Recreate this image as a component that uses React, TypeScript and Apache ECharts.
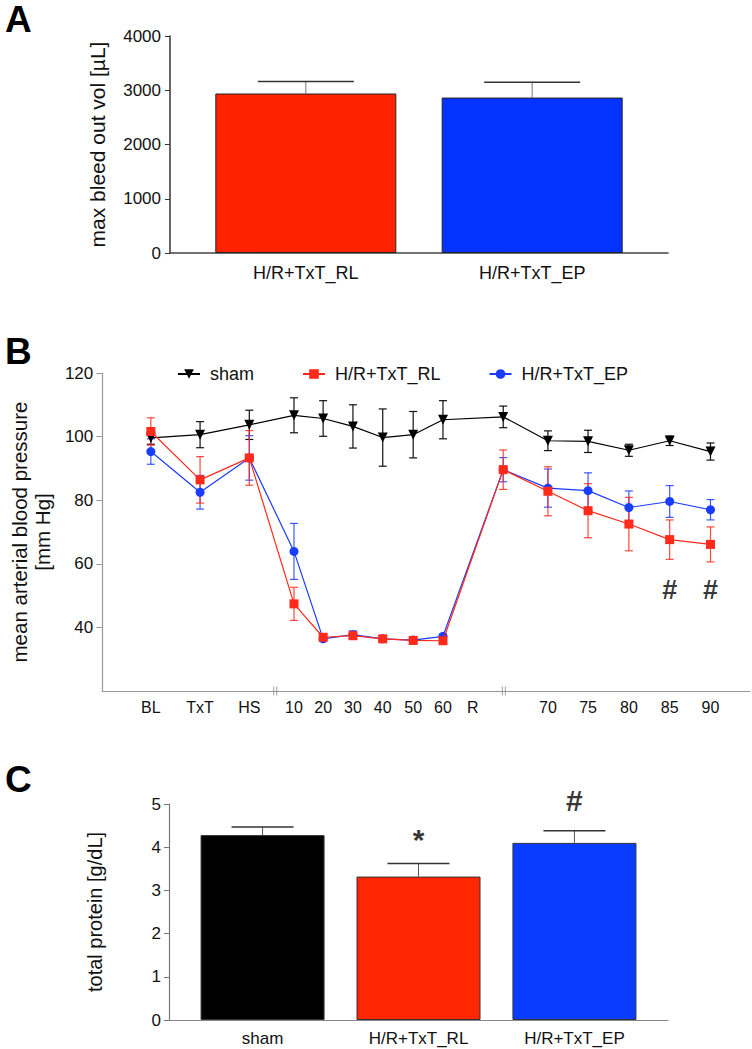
import React, { useEffect, useRef } from "react";
import * as echarts from "echarts";

// ---------- Panel A data ----------
const aGroups = ["H/R+TxT_RL", "H/R+TxT_EP"];
const aMean = [2940, 2865];
const aSem = [220, 282];
const aColors = ["#FF2200", "#0433FF"];

// ---------- Panel B data ----------
const timePoints = ["BL", "TxT", "HS", "10", "20", "30", "40", "50", "60", "R", "70", "75", "80", "85", "90"];
// position of each time point on the (broken) x axis scale, 0..100
const timeAxisPos = [7.5, 15.1, 22.7, 29.6, 34.1, 38.7, 43.3, 48.0, 52.6, 61.9, 68.8, 75.0, 81.3, 87.6, 93.9];
const rLabelPos = 57.2;
const axisBreaks = [26.7, 62.0];
const shamMean = [99.6, 100.6, 103.7, 106.7, 105.7, 103.2, 99.7, 100.6, 105.3, 106.2, 98.7, 98.5, 95.7, 98.7, 95.3];
const shamSem = [2.0, 4.1, 4.6, 5.5, 5.6, 6.8, 9.0, 7.3, 6.0, 3.4, 3.1, 3.5, 1.9, 1.5, 2.7];
const rlMean = [101.6, 86.4, 93.3, 47.4, 36.9, 37.4, 36.4, 35.9, 35.8, 89.6, 82.8, 76.7, 72.5, 67.6, 66.1];
const rlSem = [4.3, 7.3, 8.6, 5.2, 1.0, 1.2, 0.8, 0.6, 0.6, 6.2, 7.7, 8.5, 8.4, 6.2, 5.5];
const epMean = [95.3, 82.5, 93.3, 63.9, 36.4, 37.7, 36.4, 36.0, 37.2, 89.6, 83.8, 83.0, 77.7, 79.6, 77.0];
const epSem = [4.0, 5.3, 7.0, 8.8, 0.8, 1.2, 0.8, 0.6, 0.8, 3.8, 6.0, 5.6, 5.2, 5.0, 3.2];
const bHashAt = ["85", "90"];
const bHashY = 51.9;
const bYTicks = [40, 60, 80, 100, 120];

// ---------- Panel C data ----------
const cGroups = ["sham", "H/R+TxT_RL", "H/R+TxT_EP"];
const cMean = [4.28, 3.32, 4.10];
const cSem = [0.19, 0.30, 0.28];
const cColors = ["#000000", "#FF2600", "#0A3CFF"];
const cMarks = [
  { group: "H/R+TxT_RL", text: "*", y: 4.17 },
  { group: "H/R+TxT_EP", text: "#", y: 5.07 },
];

const FONT = "'Liberation Sans', Arial, Helvetica, sans-serif";

function barErr(capHalf: number, stem: string, cap: string) {
  return (params: any, api: any) => {
    const x = api.value(0);
    const m = api.value(1);
    const e = api.value(2);
    const p0 = api.coord([x, m]);
    const p1 = api.coord([x, m + e]);
    return {
      type: "group",
      children: [
        { type: "line", shape: { x1: p0[0], y1: p0[1], x2: p1[0], y2: p1[1] }, style: { stroke: stem, lineWidth: 1 } },
        { type: "line", shape: { x1: p1[0] - capHalf, y1: p1[1], x2: p1[0] + capHalf, y2: p1[1] }, style: { stroke: cap, lineWidth: 1.5 } },
      ],
    };
  };
}

function lineErr(color: string) {
  return (params: any, api: any) => {
    const x = api.value(0);
    const m = api.value(1);
    const e = api.value(2);
    const lo = api.coord([x, m - e]);
    const hi = api.coord([x, m + e]);
    const c = 4;
    return {
      type: "group",
      children: [
        { type: "line", shape: { x1: lo[0], y1: lo[1], x2: hi[0], y2: hi[1] }, style: { stroke: color, lineWidth: 1.2 } },
        { type: "line", shape: { x1: hi[0] - c, y1: hi[1], x2: hi[0] + c, y2: hi[1] }, style: { stroke: color, lineWidth: 1.2 } },
        { type: "line", shape: { x1: lo[0] - c, y1: lo[1], x2: lo[0] + c, y2: lo[1] }, style: { stroke: color, lineWidth: 1.2 } },
      ],
    };
  };
}

export default function App() {
  const ref = useRef<HTMLDivElement>(null);

  useEffect(() => {
    if (!ref.current) return;
    const chart = echarts.init(ref.current, undefined, { renderer: "svg" });

    const labelPos = timeAxisPos.map((p, i) => (timePoints[i] === "R" ? rLabelPos : p));
    const posOf = (t: string) => timeAxisPos[timePoints.indexOf(t)];

    const option: any = {
      animation: false,
      backgroundColor: "#ffffff",
      textStyle: { fontFamily: FONT },
      grid: [
        { left: 170, top: 36, width: 498, height: 217 },
        { left: 96, top: 373, width: 654, height: 318 },
        { left: 169, top: 804, width: 499, height: 216 },
      ],
      legend: {
        data: ["sham", "H/R+TxT_RL", "H/R+TxT_EP"],
        left: 172,
        top: 360,
        itemGap: 48,
        itemWidth: 22,
        itemHeight: 12,
        textStyle: { fontSize: 18, color: "#111", fontFamily: FONT, padding: [0, 0, 0, 5] },
      },
      xAxis: [
        {
          gridIndex: 0,
          type: "value",
          min: 0.4,
          max: 2.6,
          axisLine: { show: true, lineStyle: { color: "#444", width: 1.5 } },
          axisTick: { show: false },
          splitLine: { show: false },
          axisLabel: {
            customValues: aGroups.map((_, i) => i + 1),
            formatter: (v: number) => aGroups[Math.round(v) - 1] ?? "",
            fontSize: 18,
            color: "#111",
            margin: 11,
            fontFamily: FONT,
          },
        },
        {
          gridIndex: 1,
          type: "value",
          min: 0,
          max: 100,
          axisLine: { show: true, lineStyle: { color: "#999", width: 1.2 } },
          axisTick: { show: false },
          splitLine: { show: false },
          axisLabel: {
            customValues: labelPos,
            formatter: (v: number) => {
              const i = labelPos.findIndex((p) => Math.abs(p - v) < 0.01);
              return i >= 0 ? timePoints[i] : "";
            },
            fontSize: 16,
            color: "#111",
            margin: 8,
            fontFamily: FONT,
          },
        },
        {
          gridIndex: 2,
          type: "value",
          min: 0.4,
          max: 3.6,
          axisLine: { show: true, lineStyle: { color: "#888", width: 1.2 } },
          axisTick: { show: false },
          splitLine: { show: false },
          axisLabel: {
            customValues: cGroups.map((_, i) => i + 1),
            formatter: (v: number) => cGroups[Math.round(v) - 1] ?? "",
            fontSize: 17,
            color: "#111",
            margin: 10,
            fontFamily: FONT,
          },
        },
      ],
      yAxis: [
        {
          gridIndex: 0,
          type: "value",
          min: 0,
          max: 4000,
          interval: 1000,
          name: "max bleed out vol [µL]",
          nameLocation: "middle",
          nameGap: 62,
          nameTextStyle: { fontSize: 21, color: "#111", fontFamily: FONT },
          axisLine: { show: true, lineStyle: { color: "#333", width: 1.5 } },
          axisTick: { show: true, length: 5, lineStyle: { color: "#333" } },
          splitLine: { show: false },
          axisLabel: { fontSize: 17, color: "#111", margin: 9, fontFamily: FONT, formatter: (v: number) => String(v) },
        },
        {
          gridIndex: 1,
          type: "value",
          min: 20,
          max: 120,
          interval: 20,
          name: "mean arterial blood pressure\n[mm Hg]",
          nameLocation: "middle",
          nameGap: 46,
          nameTextStyle: { fontSize: 20.5, lineHeight: 23, color: "#111", fontFamily: FONT },
          axisLine: { show: true, lineStyle: { color: "#999", width: 1.2 } },
          axisTick: { show: true, length: 6, customValues: bYTicks, lineStyle: { color: "#999" } },
          splitLine: { show: false },
          axisLabel: { customValues: bYTicks, fontSize: 17, color: "#111", margin: 9, fontFamily: FONT },
        },
        {
          gridIndex: 2,
          type: "value",
          min: 0,
          max: 5,
          interval: 1,
          name: "total protein [g/dL]",
          nameLocation: "middle",
          nameGap: 64,
          nameTextStyle: { fontSize: 20, color: "#111", fontFamily: FONT },
          axisLine: { show: true, lineStyle: { color: "#777", width: 1.2 } },
          axisTick: { show: true, length: 5, lineStyle: { color: "#777" } },
          splitLine: { show: false },
          axisLabel: { fontSize: 17, color: "#111", margin: 8, fontFamily: FONT },
        },
      ],
      series: [
        // ---- A ----
        {
          type: "bar",
          xAxisIndex: 0,
          yAxisIndex: 0,
          barWidth: 181,
          data: aMean.map((m, i) => ({ value: [i + 1, m], itemStyle: { color: aColors[i] } })),
          itemStyle: { borderColor: "#222", borderWidth: 1 },
        },
        {
          type: "custom",
          name: "errA",
          xAxisIndex: 0,
          yAxisIndex: 0,
          renderItem: barErr(48, "#777", "#333"),
          encode: { x: 0, y: 1 },
          data: aMean.map((m, i) => [i + 1, m, aSem[i]]),
          z: 1,
        },
        // ---- B ----
        {
          type: "custom",
          name: "errSham",
          xAxisIndex: 1,
          yAxisIndex: 1,
          renderItem: lineErr("#111"),
          encode: { x: 0, y: 1 },
          data: shamMean.map((m, i) => [timeAxisPos[i], m, shamSem[i]]),
          z: 3,
        },
        {
          type: "custom",
          name: "errEP",
          xAxisIndex: 1,
          yAxisIndex: 1,
          renderItem: lineErr("rgba(26,60,255,0.85)"),
          encode: { x: 0, y: 1 },
          data: epMean.map((m, i) => [timeAxisPos[i], m, epSem[i]]),
          z: 3,
        },
        {
          type: "custom",
          name: "errRL",
          xAxisIndex: 1,
          yAxisIndex: 1,
          renderItem: lineErr("rgba(255,42,26,0.85)"),
          encode: { x: 0, y: 1 },
          data: rlMean.map((m, i) => [timeAxisPos[i], m, rlSem[i]]),
          z: 3,
        },
        {
          type: "line",
          name: "sham",
          xAxisIndex: 1,
          yAxisIndex: 1,
          data: shamMean.map((m, i) => [timeAxisPos[i], m]),
          symbol: "triangle",
          symbolRotate: 180,
          symbolSize: 10,
          color: "#000",
          lineStyle: { width: 1.2, color: "#000" },
          itemStyle: { color: "#000" },
          z: 4,
        },
        {
          type: "line",
          name: "H/R+TxT_EP",
          xAxisIndex: 1,
          yAxisIndex: 1,
          data: epMean.map((m, i) => [timeAxisPos[i], m]),
          symbol: "circle",
          symbolSize: 9,
          color: "#1A3CFF",
          lineStyle: { width: 1.2, color: "#1A3CFF" },
          itemStyle: { color: "#1A3CFF" },
          z: 4,
        },
        {
          type: "line",
          name: "H/R+TxT_RL",
          xAxisIndex: 1,
          yAxisIndex: 1,
          data: rlMean.map((m, i) => [timeAxisPos[i], m]),
          symbol: "rect",
          symbolSize: 9,
          color: "#FF2A1A",
          lineStyle: { width: 1.2, color: "#FF2A1A" },
          itemStyle: { color: "#FF2A1A" },
          z: 5,
        },
        {
          type: "scatter",
          name: "breaks",
          xAxisIndex: 1,
          yAxisIndex: 1,
          clip: false,
          symbol: "path://M0 0H1V10H0Z M3 0H4V10H3Z",
          symbolSize: [4, 9],
          itemStyle: { color: "#888" },
          data: axisBreaks.map((b) => [b, 20]),
          silent: true,
          z: 6,
        },
        {
          type: "scatter",
          name: "hashB",
          xAxisIndex: 1,
          yAxisIndex: 1,
          clip: false,
          symbolSize: 0,
          data: bHashAt.map((t) => ({ name: "#", value: [posOf(t), bHashY] })),
          label: {
            show: true,
            position: "inside",
            formatter: "{b}",
            fontSize: 27,
            fontWeight: "bold",
            color: "#000",
            fontFamily: FONT,
          },
          silent: true,
        },
        // ---- C ----
        {
          type: "bar",
          xAxisIndex: 2,
          yAxisIndex: 2,
          barWidth: 124,
          data: cMean.map((m, i) => ({ value: [i + 1, m], itemStyle: { color: cColors[i] } })),
          itemStyle: { borderColor: "#333", borderWidth: 1 },
        },
        {
          type: "custom",
          name: "errC",
          xAxisIndex: 2,
          yAxisIndex: 2,
          renderItem: barErr(31, "#555", "#333"),
          encode: { x: 0, y: 1 },
          data: cMean.map((m, i) => [i + 1, m, cSem[i]]),
          z: 1,
        },
        {
          type: "scatter",
          name: "marksC",
          xAxisIndex: 2,
          yAxisIndex: 2,
          clip: false,
          symbolSize: 0,
          data: cMarks.map((mk) => ({ name: mk.text, value: [cGroups.indexOf(mk.group) + 1, mk.y] })),
          label: {
            show: true,
            position: "inside",
            formatter: "{b}",
            fontSize: 30,
            fontWeight: "bold",
            color: "#000",
            fontFamily: FONT,
          },
          silent: true,
        },
      ],
      graphic: [
        { type: "text", left: 5, top: 1, style: { text: "A", font: `bold 37px ${FONT}`, fill: "#000" } },
        { type: "text", left: 5, top: 333, style: { text: "B", font: `bold 37px ${FONT}`, fill: "#000" } },
        { type: "text", left: 5, top: 761, style: { text: "C", font: `bold 37px ${FONT}`, fill: "#000" } },
      ],
    };

    chart.setOption(option);
    return () => chart.dispose();
  }, []);

  return (
    <div
      ref={ref}
      style={{ position: "absolute", left: 0, top: 0, width: 752, height: 1049, background: "#fff" }}
    />
  );
}
